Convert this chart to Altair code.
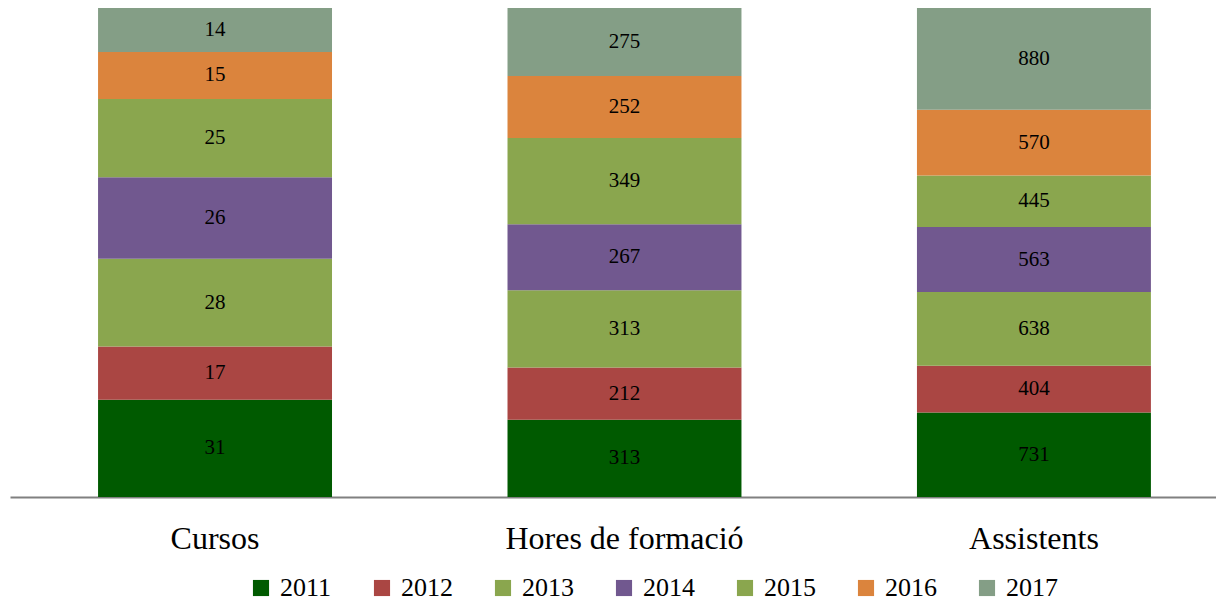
import altair as alt
import pandas as pd

categories = ["Cursos", "Hores de formació", "Assistents"]
years = ["2011", "2012", "2013", "2014", "2015", "2016", "2017"]
colors = ["#005a00", "#aa4643", "#8aa64e", "#71588f", "#8aa64e", "#db843d", "#849e86"]
cursos = [31, 17, 28, 26, 25, 15, 14]
hores = [313, 212, 313, 267, 349, 252, 275]
assistents = [731, 404, 638, 563, 445, 570, 880]

rows = []
for cat, vals in zip(categories, [cursos, hores, assistents]):
    for i, (y, v) in enumerate(zip(years, vals)):
        rows.append({"category": cat, "year": y, "ord": i, "value": v})
df = pd.DataFrame(rows)

FONT = "Liberation Serif"

base = alt.Chart(df).transform_stack(
    stack="value", as_=["y0", "y1"], groupby=["category"],
    sort=[alt.SortField("ord", order="ascending")], offset="normalize"
).transform_calculate(mid="(datum.y0 + datum.y1) / 2")

xscale = alt.Scale(paddingInner=0.4286, paddingOuter=0.187, align=0.575)

xenc = alt.X("category:N", sort=categories, title=None, scale=xscale,
             axis=alt.Axis(labelAngle=0, labelFontSize=32, labelFont=FONT,
                           labelColor="#000000", labelPadding=26, ticks=False,
                           labelLimit=0,
                           domainColor="#808080", domainWidth=2))

bars = base.mark_bar().encode(
    x=xenc,
    y=alt.Y("y0:Q", axis=None, scale=alt.Scale(domain=[0, 1])),
    y2="y1:Q",
    color=alt.Color("year:N", scale=alt.Scale(domain=years, range=colors),
                    legend=alt.Legend(title=None, orient="none", direction="horizontal",
                                      legendX=238, legendY=567, columns=7,
                                      symbolType="square", symbolSize=260,
                                      symbolStrokeWidth=0, symbolOpacity=1,
                                      labelFont=FONT, labelFontSize=26,
                                      labelColor="#000000", labelOffset=6,
                                      labelLimit=0,
                                      columnPadding=37)),
)

labels = base.mark_text(font=FONT, fontSize=21, color="#000000").encode(
    x=alt.X("category:N", sort=categories),
    y=alt.Y("mid:Q"),
    text="value:Q",
)

chart = alt.layer(bars, labels).properties(
    width=1206, height=489,
    autosize=alt.AutoSizeParams(type="none"),
    padding={"left": 2, "top": 0, "right": 0, "bottom": 106},
).configure(font=FONT).configure_view(stroke=None)

chart.save("out.html", embed_options={"renderer": "svg", "actions": False})
